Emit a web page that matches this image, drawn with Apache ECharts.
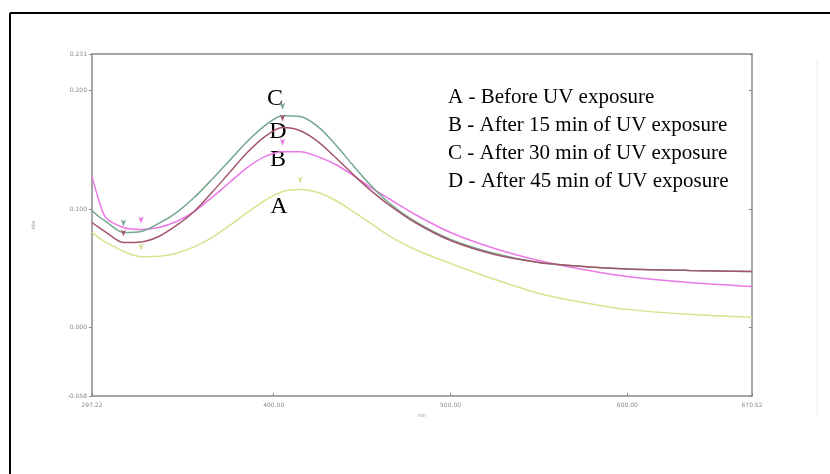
<!DOCTYPE html>
<html>
<head>
<meta charset="utf-8">
<script src="https://cdn.jsdelivr.net/npm/echarts@6/dist/echarts.min.js"></script>
<style>
  html, body { margin: 0; padding: 0; background: #fff; }
  #chart { width: 830px; height: 474px; }
</style>
</head>
<body>
<div id="chart"></div>
<script>
// Wavelengths (nm) at which the absorbance spectra are sampled
const wavelengths = [297.22, 301, 305, 315, 325, 335, 345, 355, 365, 375, 385, 395, 405, 415, 425, 435, 445, 455, 465, 480, 500, 525, 550, 575, 600, 635, 670.52];

// A - before UV exposure
const absA = [0.0802, 0.0759, 0.0720, 0.0642, 0.0597, 0.0600, 0.0627, 0.0680, 0.0759, 0.0861, 0.0970, 0.1072, 0.1148, 0.1165, 0.1139, 0.1072, 0.0979, 0.0878, 0.0776, 0.0658, 0.0540, 0.0405, 0.0287, 0.0211, 0.0152, 0.0110, 0.0084];
// B - after 15 min
const absB = [0.1274, 0.1080, 0.0928, 0.0844, 0.0827, 0.0844, 0.0895, 0.0979, 0.1097, 0.1224, 0.1350, 0.1443, 0.1485, 0.1485, 0.1443, 0.1376, 0.1283, 0.1181, 0.1089, 0.0954, 0.0802, 0.0667, 0.0565, 0.0489, 0.0430, 0.0380, 0.0346];
// C - after 30 min
const absC = [0.0987, 0.0937, 0.0895, 0.0802, 0.0810, 0.0878, 0.0970, 0.1097, 0.1249, 0.1409, 0.1570, 0.1705, 0.1789, 0.1781, 0.1696, 0.1544, 0.1367, 0.1198, 0.1055, 0.0895, 0.0743, 0.0624, 0.0549, 0.0515, 0.0494, 0.0481, 0.0473];
// D - after 45 min
const absD = [0.0886, 0.0844, 0.0805, 0.0717, 0.0722, 0.0768, 0.0861, 0.0979, 0.1139, 0.1308, 0.1477, 0.1612, 0.1688, 0.1662, 0.1570, 0.1435, 0.1291, 0.1156, 0.1038, 0.0886, 0.0734, 0.0616, 0.0549, 0.0515, 0.0494, 0.0481, 0.0473];

const seriesNames = ['A', 'B', 'C', 'D'];
const legendLines = [
  'A - Before UV exposure',
  'B - After 15 min of UV exposure',
  'C - After 30 min of UV exposure',
  'D - After 45 min of UV exposure'
];

// Axis tick positions
const xTicks = [297.22, 400, 500, 600, 670.52];
const yTicks = [-0.058, 0, 0.1, 0.2, 0.231];

const colors = { A: '#d9e28e', B: '#ea78e6', C: '#74a88c', D: '#a4566a' };
const allData = { A: absA, B: absB, C: absC, D: absD };

const chart = echarts.init(document.getElementById('chart'), null, { renderer: 'canvas' });

function pairs(vals) {
  return wavelengths.map((w, i) => [w, vals[i]]);
}

// Peak and short-wavelength minimum of a spectrum, marked with small arrows
function extremes(vals) {
  let iMax = 0, iMin = 1;
  vals.forEach((v, i) => {
    if (v > vals[iMax]) iMax = i;
    if (i > 0 && i < 10 && v < vals[iMin]) iMin = i;
  });
  return [
    { coord: [wavelengths[iMax], vals[iMax]] },
    { coord: [wavelengths[iMin], vals[iMin]] }
  ];
}

const tickLabel = { color: '#888', fontSize: 6, fontFamily: 'DejaVu Sans' };
const axisLine = { onZero: false, lineStyle: { color: '#8a8a8a', width: 1.5 } };

const series = seriesNames.map(name => ({
  name: name,
  type: 'line',
  data: pairs(allData[name]),
  smooth: 0.3,
  symbol: 'none',
  lineStyle: { color: colors[name], width: 1.5 },
  markPoint: {
    symbol: 'arrow',
    symbolSize: [4, 7],
    symbolRotate: 180,
    symbolOffset: [0, -6],
    itemStyle: { color: colors[name] },
    label: { show: false },
    data: extremes(allData[name])
  },
  z: name === 'A' ? 2 : 3
}));

// Curve letters near the peaks
const letterPos = { C: [275, 99], D: [278, 132], B: [278, 160], A: [279, 207] };
const graphics = [];
Object.keys(letterPos).forEach(k => {
  graphics.push({
    type: 'text', x: letterPos[k][0], y: letterPos[k][1],
    style: { text: k, font: '24px "Liberation Serif"', fill: '#000', textAlign: 'center', textVerticalAlign: 'middle' }
  });
});
legendLines.forEach((t, i) => {
  graphics.push({
    type: 'text', x: 448, y: 97 + i * 28,
    style: { text: t, font: '21px "Liberation Serif"', fill: '#000', textAlign: 'left', textVerticalAlign: 'middle' }
  });
});
// Outer frame (top and left edges)
graphics.push({ type: 'line', shape: { x1: 10, y1: 13, x2: 830, y2: 13 }, style: { stroke: '#000', lineWidth: 2 } });
graphics.push({ type: 'line', shape: { x1: 10, y1: 13, x2: 10, y2: 474 }, style: { stroke: '#000', lineWidth: 2 } });
// Faint divider on the right
graphics.push({ type: 'line', shape: { x1: 817, y1: 60, x2: 817, y2: 415 }, style: { stroke: '#ececec', lineWidth: 1 } });

chart.setOption({
  animation: false,
  backgroundColor: '#fff',
  grid: { left: 92, right: 78, top: 54, bottom: 78, show: false },
  xAxis: [{
    type: 'value',
    min: 297.22, max: 670.52,
    name: 'nm', nameLocation: 'middle', nameGap: 12,
    nameTextStyle: { color: '#999', fontSize: 5, fontFamily: 'DejaVu Sans' },
    axisLine: axisLine,
    axisTick: { show: true, inside: true, length: 3, customValues: xTicks, lineStyle: { color: '#888' } },
    axisLabel: Object.assign({ customValues: xTicks, margin: 6, formatter: v => v.toFixed(2) }, tickLabel),
    splitLine: { show: false }
  }, {
    type: 'value', position: 'top',
    min: 297.22, max: 670.52,
    axisLine: axisLine, axisTick: { show: false }, axisLabel: { show: false }, splitLine: { show: false }
  }],
  yAxis: [{
    type: 'value',
    min: -0.058, max: 0.231,
    name: 'Abs', nameLocation: 'middle', nameGap: 56, nameRotate: 90,
    nameTextStyle: { color: '#999', fontSize: 5, fontFamily: 'DejaVu Sans' },
    axisLine: Object.assign({ show: true }, axisLine),
    axisTick: { show: true, length: 3, customValues: yTicks, lineStyle: { color: '#888' } },
    axisLabel: Object.assign({ customValues: yTicks, margin: 5, formatter: v => v.toFixed(3) }, tickLabel),
    splitLine: { show: false }
  }, {
    type: 'value', position: 'right',
    min: -0.058, max: 0.231,
    axisLine: Object.assign({ show: true }, axisLine),
    axisTick: { show: true, inside: true, length: 3, customValues: yTicks, lineStyle: { color: '#888' } },
    axisLabel: { show: false },
    splitLine: { show: false }
  }],
  series: series,
  graphic: graphics
});
</script>
</body>
</html>
